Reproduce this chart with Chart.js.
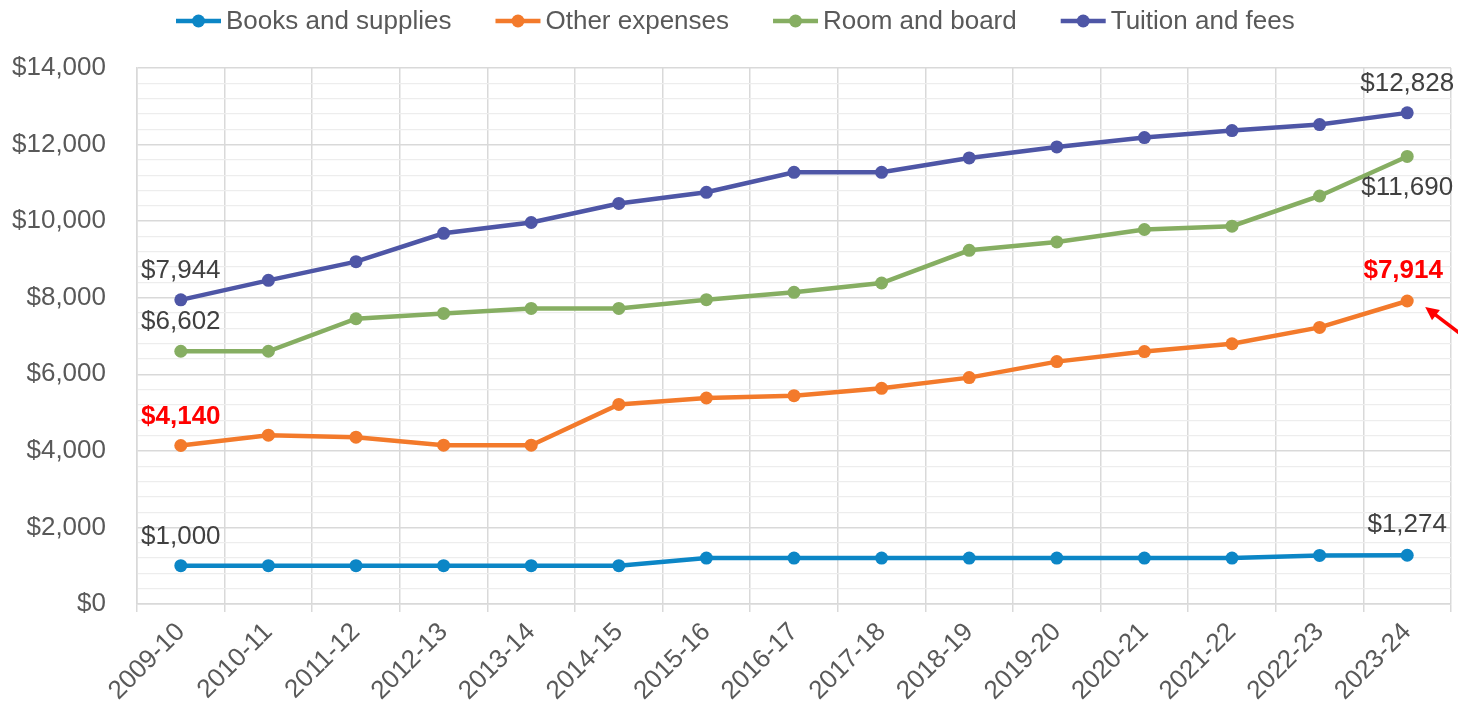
<!DOCTYPE html>
<html>
<head>
<meta charset="utf-8">
<script src="https://cdn.jsdelivr.net/npm/chart.js@4.4.1/dist/chart.umd.min.js"></script>
<style>
  html, body { margin: 0; padding: 0; background: #ffffff; }
  #wrap { width: 1458px; height: 708px; position: relative; }
</style>
</head>
<body>
<div id="wrap"><canvas id="c" width="1458" height="708"></canvas></div>
<script>
const categories = ['2009-10','2010-11','2011-12','2012-13','2013-14','2014-15','2015-16','2016-17','2017-18','2018-19','2019-20','2020-21','2021-22','2022-23','2023-24'];
const booksAndSupplies = [1000,1000,1000,1000,1000,1000,1200,1200,1200,1200,1200,1200,1200,1270,1274];
const otherExpenses   = [4140,4410,4357,4148,4148,5212,5381,5442,5634,5913,6331,6593,6797,7224,7914];
const roomAndBoard    = [6602,6602,7451,7590,7721,7721,7948,8140,8384,9238,9456,9782,9869,10657,11690];
const tuitionAndFees  = [7944,8453,8942,9683,9965,10462,10753,11276,11276,11651,11939,12183,12366,12523,12828];
const seriesNames = ['Books and supplies','Other expenses','Room and board','Tuition and fees'];
const seriesColors = ['#0C86C6','#F37A2B','#86AE62','#4E56A6'];
const yMin = 0, yMax = 14000, yStep = 400, yLabelStep = 2000;

const FONT = '"Liberation Sans", Arial, sans-serif';
const fmt = v => '$' + v.toLocaleString('en-US');

// annotation labels: which series / index, offset above (-) or below (+), highlight
const annotations = [
  { s: 3, i: 0, dy: -30, hi: false },
  { s: 2, i: 0, dy: -30, hi: false },
  { s: 1, i: 0, dy: -30, hi: true },
  { s: 0, i: 0, dy: -30, hi: false },
  { s: 3, i: 14, dy: -30, hi: false },
  { s: 2, i: 14, dy: 30, hi: false },
  { s: 1, i: 14, dy: -31, hi: true, dx: -4 },
  { s: 0, i: 14, dy: -31, hi: false },
];

const labelPlugin = {
  id: 'labels',
  afterDraw(chart) {
    const ctx = chart.ctx;
    ctx.save();
    ctx.textAlign = 'center';
    ctx.textBaseline = 'middle';
    annotations.forEach(a => {
      const pt = chart.getDatasetMeta(a.s).data[a.i];
      const v = chart.data.datasets[a.s].data[a.i];
      ctx.font = (a.hi ? 'bold ' : '') + '26px ' + FONT;
      ctx.fillStyle = a.hi ? '#FF0000' : '#404040';
      ctx.fillText(fmt(v), pt.x + (a.dx || 0), pt.y + a.dy + 1);
    });
    // red arrow pointing at the last "Other expenses" point
    const last = chart.getDatasetMeta(1).data[14];
    const tx = last.x + 18, ty = last.y + 6;
    const sx = tx + 50, sy = ty + 38;
    const ang = Math.atan2(ty - sy, tx - sx);
    ctx.strokeStyle = '#FF0000';
    ctx.fillStyle = '#FF0000';
    ctx.lineWidth = 3.5;
    ctx.beginPath();
    ctx.moveTo(sx, sy);
    ctx.lineTo(tx - Math.cos(ang) * 8, ty - Math.sin(ang) * 8);
    ctx.stroke();
    ctx.beginPath();
    ctx.moveTo(tx, ty);
    ctx.lineTo(tx - Math.cos(ang - 0.45) * 15, ty - Math.sin(ang - 0.45) * 15);
    ctx.lineTo(tx - Math.cos(ang + 0.45) * 15, ty - Math.sin(ang + 0.45) * 15);
    ctx.closePath();
    ctx.fill();
    ctx.restore();
  }
};

const legendPlugin = {
  id: 'customLegend',
  afterDraw(chart) {
    const ctx = chart.ctx;
    ctx.save();
    ctx.font = '26px ' + FONT;
    ctx.textBaseline = 'middle';
    ctx.textAlign = 'left';
    let x = 176;
    const y = 21;
    chart.data.datasets.forEach(ds => {
      ctx.strokeStyle = ds.borderColor;
      ctx.fillStyle = ds.borderColor;
      ctx.lineWidth = 4.5;
      ctx.beginPath();
      ctx.moveTo(x, y);
      ctx.lineTo(x + 45, y);
      ctx.stroke();
      ctx.beginPath();
      ctx.arc(x + 22.5, y, 6.5, 0, Math.PI * 2);
      ctx.fill();
      ctx.fillStyle = '#595959';
      ctx.fillText(ds.label, x + 50, y + 1);
      x += 50 + ctx.measureText(ds.label).width + 44;
    });
    ctx.restore();
  }
};

const seriesData = [booksAndSupplies, otherExpenses, roomAndBoard, tuitionAndFees];

new Chart(document.getElementById('c'), {
  type: 'line',
  data: {
    labels: categories,
    datasets: seriesData.map((d, k) => ({
      label: seriesNames[k],
      data: d,
      borderColor: seriesColors[k],
      backgroundColor: seriesColors[k],
      borderWidth: 4.5,
      pointRadius: 6.5,
      pointBorderWidth: 0,
      pointHoverRadius: 6.5,
      tension: 0,
      fill: false
    }))
  },
  options: {
    responsive: false,
    animation: false,
    events: [],
    layout: { padding: { top: 68, right: 7, left: 0, bottom: 0 } },
    plugins: {
      legend: { display: false },
      tooltip: { enabled: false }
    },
    scales: {
      x: {
        offset: true,
        grid: {
          offset: true,
          color: '#D9D9D9',
          lineWidth: 1.5,
          drawTicks: true,
          tickLength: 8
        },
        border: { color: '#D9D9D9', width: 1.5 },
        ticks: {
          minRotation: 45,
          maxRotation: 45,
          autoSkip: false,
          padding: 5,
          color: '#595959',
          font: { family: FONT, size: 26 }
        },
        afterFit(scale) { scale.height = 104; }
      },
      y: {
        min: yMin,
        max: yMax,
        grid: {
          drawTicks: false,
          color: ctx => (ctx.tick && ctx.tick.value % yLabelStep === 0) ? '#D9D9D9' : '#EDEDED',
          lineWidth: ctx => (ctx.tick && ctx.tick.value % yLabelStep === 0) ? 1.5 : 1.2
        },
        border: { color: '#D9D9D9', width: 1.5 },
        ticks: {
          stepSize: yStep,
          autoSkip: false,
          padding: 31,
          color: '#595959',
          font: { family: FONT, size: 26 },
          callback: v => (v % yLabelStep === 0) ? fmt(v) : ''
        },
        afterFit(scale) { scale.width = 137; }
      }
    }
  },
  plugins: [labelPlugin, legendPlugin]
});
</script>
</body>
</html>
